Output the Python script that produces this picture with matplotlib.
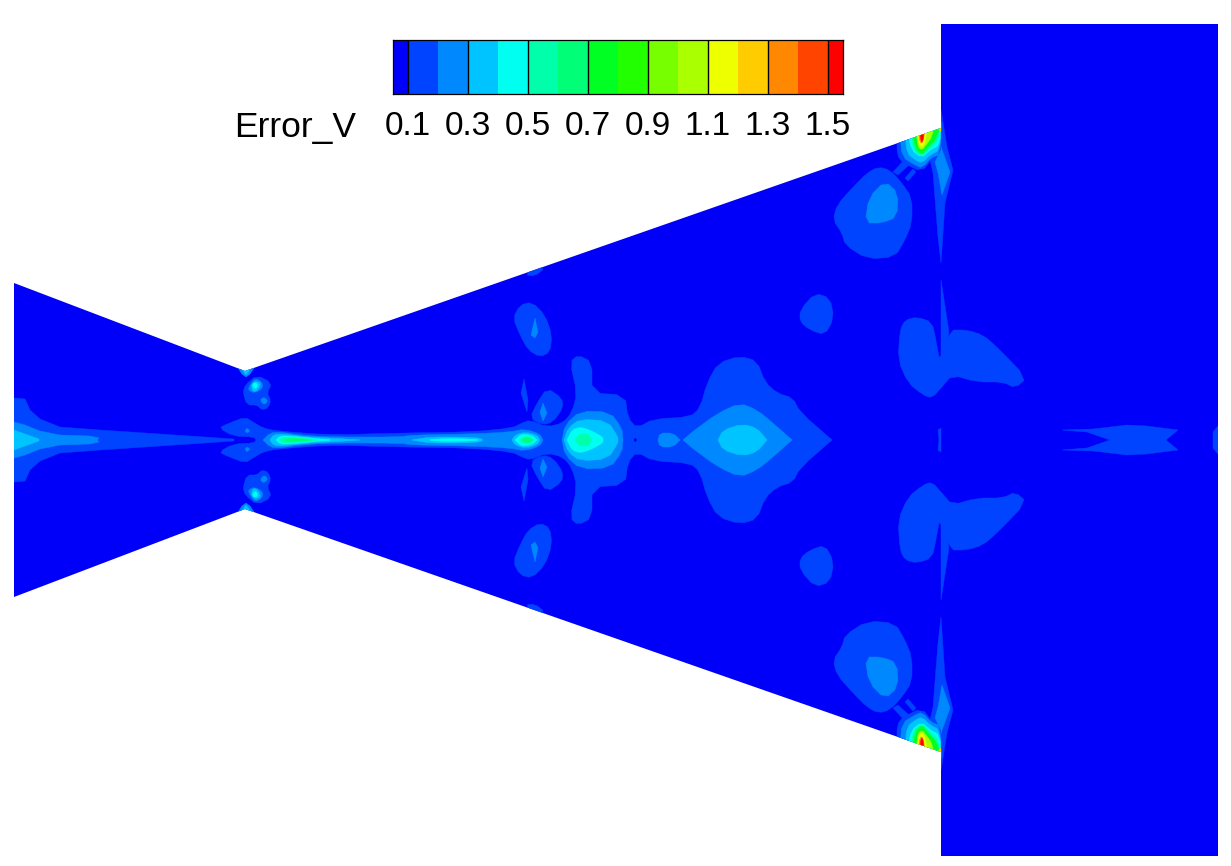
import matplotlib
matplotlib.use('Agg')
import matplotlib.pyplot as plt
from matplotlib.colors import ListedColormap, BoundaryNorm
from matplotlib.patches import Polygon
import numpy as np

plt.rcParams['font.family'] = ['Liberation Sans', 'DejaVu Sans']

# Contour legend
levels = [0.05, 0.1, 0.2, 0.3, 0.4, 0.5, 0.6, 0.7, 0.8, 0.9, 1.0, 1.1, 1.2, 1.3, 1.4, 1.5, 1.55]
band_colors = ['#0000fa', '#0044ff', '#0088ff', '#00c4ff', '#00fff0', '#00ffaa', '#00ff77', '#00ff22',
               '#22ff00', '#77ff00', '#aaff00', '#eeff00', '#ffcc00', '#ff8800', '#ff4400', '#ff0000']
tick_values = [0.1, 0.3, 0.5, 0.7, 0.9, 1.1, 1.3, 1.5]
tick_labels = ['0.1', '0.3', '0.5', '0.7', '0.9', '1.1', '1.3', '1.5']

# Flow domain outline, image coordinates
domain = [(14, 283), (245, 371), (941, 128), (941, 24), (1218, 24), (1218, 856), (941, 856),
          (941, 752), (245, 509), (14, 597)]
axis_y = 440

inlet_1 = [(14, 398), (25, 399), (30, 410), (40, 419), (60, 427), (100, 430), (160, 434), (234, 439), (234, 440), (14, 440)]
inlet_2 = [(14, 422), (25, 425), (40, 431), (60, 435), (90, 436), (99, 438), (97, 440), (14, 440)]
inlet_3 = [(14, 430), (39, 439), (39, 440), (14, 440)]

jet_1 = [(256, 440), (254, 437), (233, 436), (219, 428), (227, 424), (245, 417), (253, 422), (263, 428), (277, 431),
         (330, 435), (400, 433), (470, 432), (512, 428), (522, 423), (530, 420), (547, 427), (563, 423), (572, 412),
         (577, 393), (570, 362), (578, 355), (592, 362), (592, 393), (625, 395), (628, 418), (637, 428), (653, 419),
         (690, 417), (700, 408), (707, 383), (718, 363), (740, 356), (757, 361), (765, 382), (777, 393), (793, 398),
         (800, 412), (832, 440)]
jet_2 = [(263, 440), (270, 433), (280, 432), (300, 435), (330, 437), (400, 437), (412, 435), (470, 434), (510, 432),
         (525, 429), (540, 434), (543, 440)]
jet_3a = [(270, 440), (273, 435), (283, 434), (307, 437), (330, 438), (360, 440)]
jet_3b = [(412, 440), (430, 437), (463, 437), (480, 438), (483, 440)]
jet_3c = [(512, 440), (515, 435), (525, 432), (537, 435), (540, 440)]
jet_4a = [(276, 440), (280, 436), (290, 436), (315, 438.5), (330, 440)]
jet_4b = [(430, 440), (445, 438.5), (470, 439), (478, 440)]
jet_4c = [(515, 440), (520, 435), (525, 434), (533, 436), (537, 440)]
jet_5a = [(279, 440), (283, 437), (300, 438), (318, 440)]
jet_5b = [(520, 440), (525, 436), (530, 437), (534, 440)]
jet_6a = [(284, 440), (290, 438), (306, 439), (312, 440)]
jet_6b = [(522, 440), (526, 437.5), (530, 438), (532, 440)]
wedge_dot = [(245, 431), (247, 428), (250, 431), (247, 433)]

throat_1 = [(243, 393), (245, 385), (257, 375), (272, 383), (267, 393), (271, 400), (268, 408), (262, 410), (257, 405), (247, 405)]
throat_2a = [(250, 385), (255, 378), (262, 382), (263, 388), (255, 393), (248, 390)]
throat_2b = [(260, 400), (264, 397), (268, 401), (264, 405)]
throat_3 = [(251, 385), (255, 381), (261, 383), (258, 390), (253, 392)]
throat_4 = [(252, 385), (256, 382), (258, 386), (255, 389)]
throat_tip_2 = [(238, 368), (254, 368), (250, 374), (246, 377), (242, 374)]
throat_tip_3 = [(241, 368), (251, 368), (246, 375)]

diamond_1 = [(537, 403), (547, 388), (562, 398), (563, 408), (553, 422), (542, 425), (530, 418)]
diamond_2 = [(540, 412), (543, 403), (547, 413), (543, 421)]
sliver_1 = [(524, 379), (521, 393), (527, 412), (528, 400)]
oval_1 = [(513, 318), (520, 305), (532, 302), (545, 315), (552, 335), (550, 352), (540, 357), (528, 350), (520, 335)]
oval_2 = [(531, 335), (535, 318), (538, 332), (535, 338)]
edge_spot = [(525, 275), (535, 266), (545, 268), (535, 276)]

core_2 = [(562, 440), (565, 425), (580, 411), (610, 412), (622, 428), (623, 440)]
core_3 = [(564, 440), (568, 428), (580, 419), (608, 421), (618, 437), (618, 440)]
core_4 = [(567, 440), (572, 430), (580, 427), (590, 430), (603, 437), (603, 440)]
core_5 = [(575, 440), (580, 434), (588, 434), (592, 440)]

plume_d = [(658, 440), (660, 433), (673, 433), (680, 440)]
plume_2 = [(683, 440), (692, 432), (718, 413), (740, 403), (757, 410), (773, 423), (792, 440)]
plume_3 = [(718, 440), (723, 430), (742, 424), (757, 428), (767, 440)]
gap_dot = [(634, 440), (635, 438), (637, 440)]

shoulder_1 = [(833, 220), (837, 205), (853, 187), (867, 173), (878, 167), (890, 170), (902, 183), (912, 198), (912, 223),
              (905, 240), (895, 257), (867, 259), (845, 245), (842, 233)]
shoulder_2 = [(865, 223), (869, 197), (885, 181), (898, 193), (897, 217), (882, 223)]
leg_a = [(893, 172), (904, 160), (909, 165), (898, 175)]
leg_b = [(905, 178), (913, 169), (916, 172), (908, 181)]
strip_1 = [(941, 110), (947, 147), (953, 170), (945, 203), (941, 263), (938, 237), (933, 173), (930, 160), (941, 125)]
strip_2 = [(941, 147), (950, 172), (942, 195), (938, 173), (935, 162), (941, 150)]

lobe_1 = [(897, 135), (897, 155), (903, 163), (922, 172), (933, 157), (941, 150), (941, 120)]
lobe_2 = [(900, 135), (902, 157), (915, 165), (922, 168), (932, 157), (940, 155), (941, 120)]
lobe_3 = [(905, 135), (907, 153), (915, 160), (922, 163), (930, 155), (940, 150), (941, 120)]
lobe_4 = [(908, 130), (911, 150), (922, 158), (930, 150), (940, 145), (941, 120)]
lobe_5 = [(911, 130), (913, 149), (922, 157), (929, 149), (938, 141), (941, 120)]
lobe_7 = [(913, 130), (915, 148), (922, 155), (928, 147), (937, 138), (941, 120)]
lobe_10 = [(916, 130), (918, 147), (922, 150), (926, 145), (932, 137), (935, 120)]
lobe_11 = [(917, 130), (919, 145), (922, 147), (925, 143), (927, 130)]
lobe_13 = [(918, 130), (920, 143), (923, 143), (925, 130)]
lobe_15 = [(920, 130), (921, 142), (923, 141), (924, 130)]
wall_tip = [(935, 125), (941, 122), (941, 132)]

spot_1 = [(800, 310), (815, 293), (830, 298), (834, 318), (825, 335), (810, 330), (800, 322)]
wall_1 = [(898, 360), (900, 330), (905, 320), (917, 317), (932, 322), (936, 340), (940, 363), (949, 330),
          (967, 330), (983, 335), (997, 347), (1027, 378), (1015, 388), (1003, 382), (977, 382), (952, 375), (942, 387),
          (932, 398), (923, 395), (908, 383)]
wall_spike = [(941, 280), (949, 332), (941, 365)]
wall_tick = [(938, 430), (941, 428), (941, 440), (939, 440)]
wake_1 = [(1062, 430), (1087, 432), (1110, 440), (1166, 440), (1178, 430), (1147, 426), (1127, 425), (1093, 429)]
outlet_1 = [(1218, 426), (1213, 432), (1213, 440), (1218, 440)]

# (colour band, outline), drawn from the lowest band up
contours = [
    (1, inlet_1), (1, jet_1), (1, throat_1), (1, diamond_1), (1, sliver_1), (1, oval_1), (1, edge_spot),
    (1, shoulder_1), (1, leg_a), (1, leg_b), (1, strip_1), (1, lobe_1), (1, spot_1), (1, wall_1), (1, wall_spike),
    (1, wall_tick), (1, wake_1), (1, outlet_1), (0, gap_dot),
    (2, inlet_2), (2, jet_2), (2, wedge_dot), (2, throat_2a), (2, throat_2b), (2, throat_tip_2), (2, diamond_2),
    (2, oval_2), (2, core_2), (2, plume_d), (2, plume_2), (2, shoulder_2), (2, strip_2), (2, lobe_2),
    (3, inlet_3), (3, jet_3a), (3, jet_3b), (3, jet_3c), (3, throat_3), (3, throat_tip_3), (3, core_3), (3, plume_3),
    (3, lobe_3),
    (4, jet_4a), (4, jet_4b), (4, jet_4c), (4, throat_4), (4, core_4), (4, lobe_4),
    (5, jet_5a), (5, jet_5b), (5, core_5), (5, lobe_5),
    (6, jet_6a), (6, jet_6b),
    (7, lobe_7), (10, lobe_10), (11, lobe_11), (12, wall_tip), (13, lobe_13), (15, lobe_15),
]

# Outlines with sharp tips that corner cutting would eat away
keep_sharp = [inlet_1, inlet_2, inlet_3, sliver_1, strip_1, strip_2, wall_spike, wall_tick, wake_1, outlet_1,
              gap_dot, leg_a, leg_b, throat_tip_2, throat_tip_3, wall_tip, oval_2, diamond_2]


def smooth(pts, rounds=1):
    """Corner cutting, ends stay put when the outline sits on the axis."""
    pts = np.asarray(pts, dtype=float)
    on_axis = pts[0, 1] == axis_y and pts[-1, 1] == axis_y
    for _ in range(rounds):
        start = pts if not on_axis else pts[:-1]
        stop = np.roll(pts, -1, axis=0) if not on_axis else pts[1:]
        cut = np.empty((2 * len(start), 2))
        cut[0::2] = 0.75 * start + 0.25 * stop
        cut[1::2] = 0.25 * start + 0.75 * stop
        pts = np.vstack([pts[0], cut, pts[-1]]) if on_axis else cut
    return pts


W, H = 1231, 866
fig = plt.figure(figsize=(W / 100, H / 100), dpi=100, facecolor='white')

# Main field, axes run in image coordinates
ax = fig.add_axes([0, 0, 1, 1])
ax.set_xlim(0, W)
ax.set_ylim(H, 0)
ax.axis('off')

field = Polygon(domain, closed=True, facecolor=band_colors[0], edgecolor='none', zorder=1)
ax.add_patch(field)

for order, (band, outline) in enumerate(contours):
    sharp = any(outline is s for s in keep_sharp)
    pts = np.array(outline, dtype=float) if sharp else smooth(outline)
    mirrored = pts.copy()
    mirrored[:, 1] = 2 * axis_y - pts[:, 1]
    for shape in (pts, mirrored):
        patch = Polygon(shape, closed=True, facecolor=band_colors[band], edgecolor=band_colors[band],
                        linewidth=0.3, zorder=2 + order * 0.01)
        ax.add_patch(patch)
        patch.set_clip_path(field)

ax.text(234, 136.5, 'Error_V', fontsize=25.5, color='black', ha='left', va='baseline')

# Legend bar
cax = fig.add_axes([393 / W, 1 - 94 / H, 450 / W, 54 / H])
cmap = ListedColormap(band_colors)
norm = BoundaryNorm(levels, cmap.N)
mids = (np.array(levels[:-1]) + np.array(levels[1:])) / 2
cax.pcolormesh(levels, [0, 1], mids[np.newaxis, :], cmap=cmap, norm=norm)
cax.vlines(tick_values, 0, 1, color='black', linewidth=1)
cax.set_xlim(levels[0], levels[-1])
cax.set_ylim(0, 1)
cax.set_yticks([])
cax.set_xticks(tick_values)
cax.set_xticklabels(tick_labels, fontsize=24)
cax.tick_params(axis='x', length=0, pad=12)
for spine in cax.spines.values():
    spine.set_linewidth(0.9)
    spine.set_color('black')

fig.savefig('out.png', dpi=100)
